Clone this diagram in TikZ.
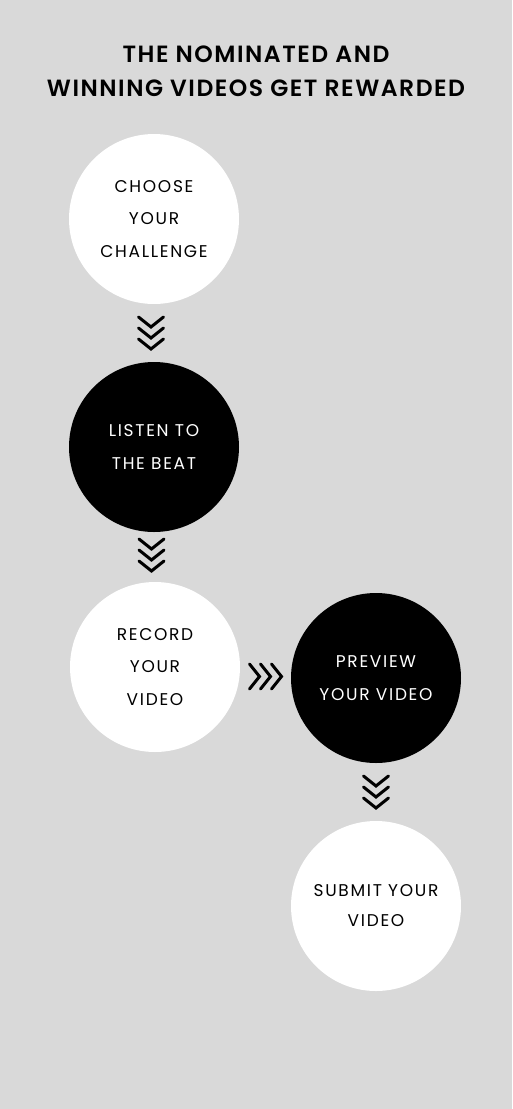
\documentclass[tikz,border=0pt]{standalone}
\usepackage{fontspec}
\setmainfont{Poppins}[BoldFont={Poppins SemiBold}]
\usetikzlibrary{calc}

\definecolor{panelgray}{HTML}{D9D9D9}

\tikzset{
  stepcircle/.style={circle, minimum size=170pt, inner sep=0pt, align=center,
    font=\fontsize{17}{32.5}\selectfont\addfontfeatures{LetterSpace=10}},
  lightstep/.style={stepcircle, fill=white, text=black},
  darkstep/.style={stepcircle, fill=black, text=white},
  chevronline/.style={line width=3pt, line cap=round, line join=miter},
  pics/chevrons/.style={code={
      \foreach \k in {-1,0,1}
      \draw[chevronline] (-12.5,{11*\k-5}) -- (0,{11*\k+5}) -- (12.5,{11*\k-5});
    }},
}

\begin{document}
\begin{tikzpicture}[x=1pt,y=-1pt]
  \fill[panelgray] (0,0) rectangle (512,1109);
  \useasboundingbox (0,0) rectangle (512,1109);

  % title
  \node[align=center,
    font=\bfseries\fontsize{23.5}{34}\selectfont\addfontfeatures{LetterSpace=6.5}]
    (title) at (256,71) {THE NOMINATED AND\\WINNING VIDEOS GET REWARDED};

  % steps
  \node[lightstep] (choose)  at (154,219) {CHOOSE\\YOUR\\CHALLENGE};
  \node[darkstep]  (listen)  at (154,447) {LISTEN TO\\THE BEAT};
  \node[lightstep] (record)  at (155,667) {RECORD\\YOUR\\VIDEO};
  \node[darkstep]  (preview) at (376,678) {PREVIEW\\YOUR VIDEO};
  \node[lightstep, font=\fontsize{17}{30}\selectfont\addfontfeatures{LetterSpace=10}]
    (submit) at (376,906) {SUBMIT YOUR\\VIDEO};

  % chevrons between the steps
  \pic at ($(choose.south)!0.5!(listen.north)+(-3,0)$) {chevrons};
  \pic at ($(listen.south)!0.5!(record.north)+(-3,-2)$) {chevrons};
  \pic[rotate=90] at ($(record.east)!0.5!(preview.west)+(0,4)$) {chevrons};
  \pic at ($(preview.south)!0.5!(submit.north)$) {chevrons};
\end{tikzpicture}
\end{document}
